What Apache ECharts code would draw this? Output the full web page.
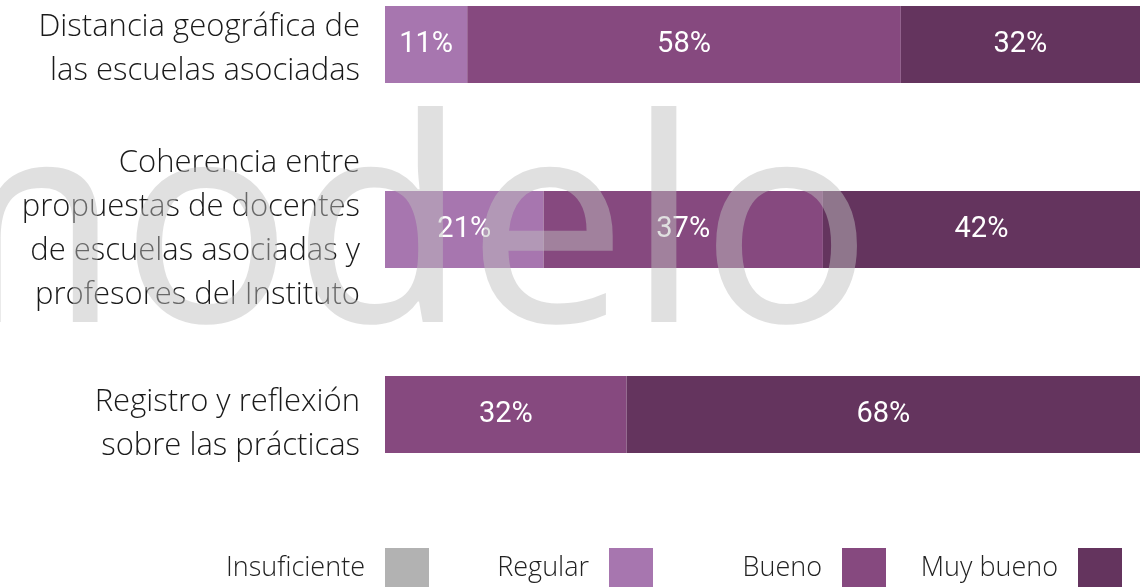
<!DOCTYPE html>
<html>
<head>
<meta charset="utf-8">
<script src="https://cdn.jsdelivr.net/npm/echarts@6/dist/echarts.min.js"></script>
<style>
html,body{margin:0;padding:0;background:#fff;}
#ChartMain{width:1140px;height:587px;}
</style>
</head>
<body>
<div id="ChartMain"></div>
<script>
// categorias (de arriba hacia abajo)
var categorias = [
    'Distancia geográfica de\nlas escuelas asociadas',
    'Coherencia entre\npropuestas de docentes\nde escuelas asociadas y\nprofesores del Instituto',
    'Registro y reflexión\nsobre las prácticas'
];
var niveles = ['Insuficiente', 'Regular', 'Bueno', 'Muy bueno'];
var insuficiente = [0, 0, 0];
var regular = [11, 21, 0];
var bueno = [58, 37, 32];
var muyBueno = [32, 42, 68];
var colores = ['#b2b2b2', '#a776af', '#86497f', '#64345e'];

function GenerateChart() {
    var chart = echarts.init(document.getElementById('ChartMain'));
    var valores = [insuficiente, regular, bueno, muyBueno];
    // total por fila, para que cada barra ocupe el 100%
    var totales = categorias.map(function (c, i) {
        var s = 0;
        valores.forEach(function (v) { s += v[i]; });
        return s;
    });

    var series = niveles.map(function (nombre, k) {
        return {
            name: nombre,
            type: 'bar',
            stack: 'total',
            barWidth: 77,
            clip: false,
            itemStyle: {color: colores[k]},
            label: {
                show: true,
                position: 'inside',
                color: '#fff',
                fontFamily: 'Roboto',
                fontWeight: 'normal',
                fontSize: 29,
                formatter: function (p) {
                    return p.data.raw > 0 ? p.data.raw + '%' : '';
                }
            },
            data: valores[k].map(function (v, i) {
                return {value: v / totales[i] * 100, raw: v};
            })
        };
    });

    var legendRight = [711, 487, 254, 18];
    var legends = niveles.map(function (nombre, k) {
        return {
            data: [nombre],
            right: legendRight[k],
            bottom: -1,
            padding: 0,
            align: 'right',
            icon: 'rect',
            itemWidth: 44,
            itemHeight: 40,
            selectedMode: false,
            textStyle: {
                fontFamily: 'Open Sans',
                fontWeight: 300,
                fontSize: 27,
                color: '#222',
                padding: [0, 15, 0, 0]
            }
        };
    });

    // linea vacia arriba de cada etiqueta para bajarla un poco
    var desplazo = ['p1', null, 'p2'];
    var textoEje = {
        fontFamily: 'Open Sans',
        fontWeight: 300,
        fontSize: 31,
        lineHeight: 44,
        color: '#1a1a1a',
        align: 'right'
    };

    var option = {
        animation: false,
        legend: legends,
        // las categorias quedan en los bordes del grid
        grid: {left: 385, right: 0, top: 44.5, bottom: 172.5, outerBoundsMode: 'none'},
        xAxis: {type: 'value', min: 0, max: 100, show: false},
        yAxis: {
            type: 'category',
            inverse: true,
            boundaryGap: false,
            data: categorias,
            axisLine: {show: false},
            axisTick: {show: false},
            splitLine: {show: false},
            axisLabel: {
                margin: 25,
                align: 'right',
                formatter: function (val, idx) {
                    var lineas = val.split('\n').map(function (l) { return '{t|' + l + '}'; });
                    if (desplazo[idx]) lineas.unshift('{' + desplazo[idx] + '| }');
                    return lineas.join('\n');
                },
                rich: {
                    t: textoEje,
                    p1: {fontSize: 1, lineHeight: 10},
                    p2: {fontSize: 1, lineHeight: 20}
                }
            }
        },
        series: series,
        graphic: [{
            type: 'text',
            left: -145,
            top: 99,
            z: 100,
            silent: true,
            style: {
                text: 'modelo',
                fontFamily: 'Noto Sans',
                fontWeight: 'normal',
                fontSize: 284,
                fill: 'rgba(190,190,190,0.48)'
            }
        }]
    };
    chart.setOption(option);
}
GenerateChart();
</script>
</body>
</html>
